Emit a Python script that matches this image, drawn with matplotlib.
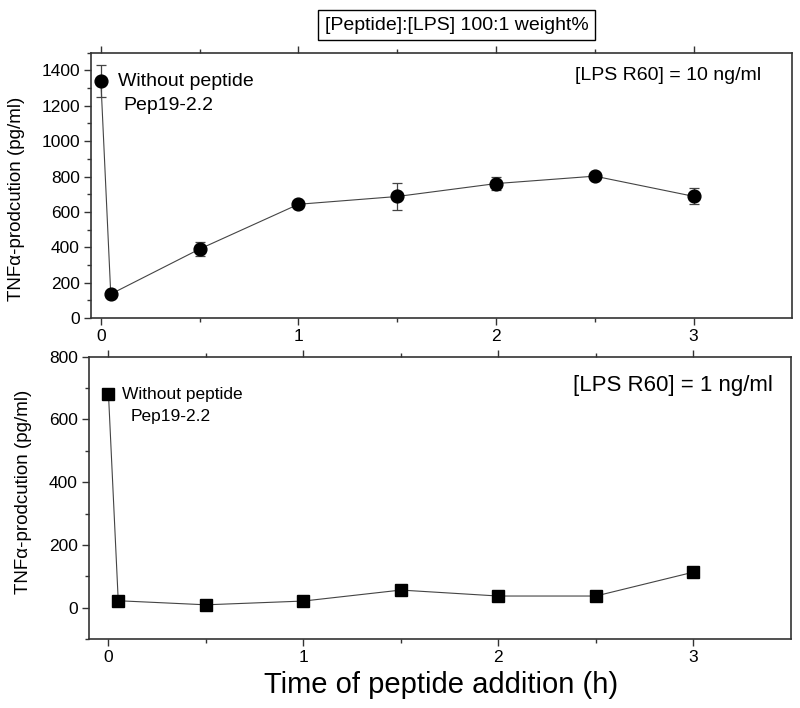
"""
TNF-alpha production vs. time of peptide addition (two LPS concentrations)
"""

import matplotlib
matplotlib.use("Agg")
import matplotlib.pyplot as plt
from matplotlib.ticker import MultipleLocator, FixedLocator

plt.rcParams["font.family"] = ["Liberation Sans", "DejaVu Sans"]

# ── data ─────────────────────────────────────────────
time_h = [0, 0.05, 0.5, 1, 1.5, 2, 2.5, 3]

tnf_10ng = [1340, 135, 390, 643, 687, 760, 802, 688]
tnf_10ng_err = [89, 0, 40, 0, 78, 38, 0, 45]

tnf_1ng = [680, 22, 9, 21, 56, 37, 37, 113]

y_ticks_top = [0, 200, 400, 600, 800, 1000, 1200, 1400]
y_ticks_bot = [0, 200, 400, 600, 800]
x_ticks = [0, 1, 2, 3]

W, H = 800, 708
SPINE = "#333333"
LINE = "#444444"


def px(x, y):
    # figure pixel (from top-left) -> figure fraction
    return x / W, 1 - y / H


def style_axes(ax, xlim, ylim, yticks, yminor):
    ax.set_xlim(*xlim)
    ax.set_ylim(*ylim)
    ax.xaxis.set_major_locator(FixedLocator(x_ticks))
    ax.xaxis.set_minor_locator(FixedLocator([0.5, 1.5, 2.5]))
    ax.yaxis.set_major_locator(FixedLocator(yticks))
    ax.yaxis.set_minor_locator(MultipleLocator(yminor))
    for s in ax.spines.values():
        s.set_color(SPINE)
        s.set_linewidth(1.2)
    ax.tick_params(which="both", direction="out", top=True, right=False,
                   color=SPINE, width=1.0, labelsize=12.5, pad=3)
    ax.tick_params(which="major", length=5)
    ax.tick_params(which="minor", length=3)


fig = plt.figure(figsize=(W / 100, H / 100), dpi=100)

# ── top panel: 10 ng/ml ──────────────────────────────
ax1 = fig.add_axes([91 / W, (H - 318) / H, 701.3 / W, (318 - 52.7) / H])
ax1.errorbar(time_h, tnf_10ng, yerr=tnf_10ng_err, fmt="o", color="black",
             markersize=9.2, ecolor=LINE, elinewidth=0.9, capsize=3.5,
             capthick=0.9, zorder=3)
ax1.plot(time_h, tnf_10ng, "-", color=LINE, linewidth=0.8, zorder=2)
style_axes(ax1, (-0.05, 3.5), (0, 1500), y_ticks_top, 100)
ax1.set_ylabel("TNFα-prodcution (pg/ml)", fontsize=13.5)
ax1.yaxis.set_label_coords(-0.094, 0.449)

# ── bottom panel: 1 ng/ml ────────────────────────────
ax2 = fig.add_axes([89 / W, (H - 639) / H, 701.7 / W, (639 - 356.7) / H])
ax2.plot(time_h, tnf_1ng, "-s", color=LINE, linewidth=0.8,
         markerfacecolor="black", markeredgecolor="black", markersize=8.5)
style_axes(ax2, (-0.1, 3.5), (-100, 800), y_ticks_bot, 100)
ax2.set_ylabel("TNFα-prodcution (pg/ml)", fontsize=13.5)
ax2.yaxis.set_label_coords(-0.081, 0.522)
ax2.set_xlabel("Time of peptide addition (h)", fontsize=21)
ax2.xaxis.set_label_coords(0.5016, -0.112)

# ── annotations ─────────────────────────────────────
fig.text(*px(456.5, 25), "[Peptide]:[LPS] 100:1 weight%", fontsize=14,
         ha="center", va="center",
         bbox=dict(boxstyle="square,pad=0.35", facecolor="white",
                   edgecolor="black", linewidth=1.0))

fig.text(*px(118, 82), "Without peptide", fontsize=14, va="center")
fig.text(*px(123, 106), "Pep19-2.2", fontsize=14, va="center")
fig.text(*px(575, 76), "[LPS R60] = 10 ng/ml", fontsize=14, va="center")

fig.text(*px(122, 395), "Without peptide", fontsize=12.5, va="center")
fig.text(*px(131, 416), "Pep19-2.2", fontsize=12.5, va="center")
fig.text(*px(573, 386), "[LPS R60] = 1 ng/ml", fontsize=16, va="center")

fig.savefig("out.png", dpi=100)
